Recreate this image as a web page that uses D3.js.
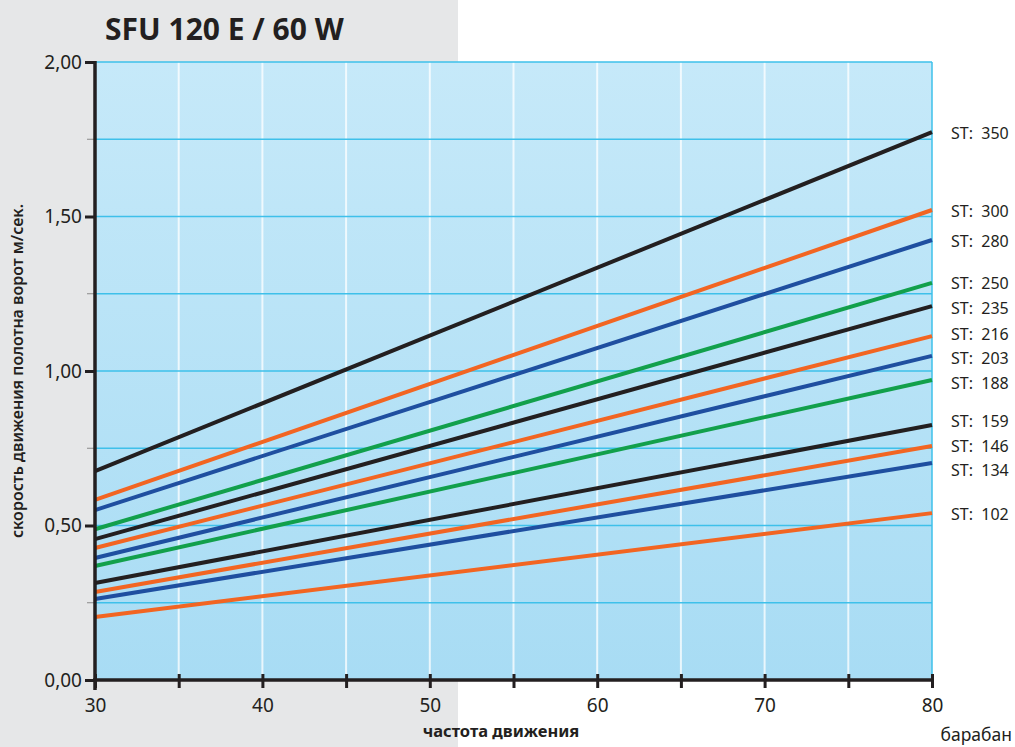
<!DOCTYPE html>
<html>
<head>
<meta charset="utf-8">
<script src="https://cdn.jsdelivr.net/npm/d3@7"></script>
<style>
  body { margin: 0; background: #fff; }
  svg { display: block; }
  text { font-family: "Noto Sans", "DejaVu Sans", sans-serif; fill: #231f20; }
</style>
</head>
<body>
<div id="chart"></div>
<script>
// series: ST drum size, speed at 30 and at 80
var stNames = ["350", "300", "280", "250", "235", "216", "203", "188", "159", "146", "134", "102"];
var speedAt30 = [0.676, 0.583, 0.550, 0.488, 0.456, 0.427, 0.395, 0.369, 0.314, 0.285, 0.262, 0.204];
var speedAt80 = [1.773, 1.521, 1.424, 1.285, 1.210, 1.113, 1.049, 0.971, 0.825, 0.757, 0.702, 0.540];
var lineColors = ["#231f20", "#f26522", "#1f4fa0", "#12a04b", "#231f20", "#f26522", "#1f4fa0", "#12a04b", "#231f20", "#f26522", "#1f4fa0", "#f26522"];
var freqDomain = [30, 80];
var xTicks = [30, 40, 50, 60, 70, 80];
var yTicks = [0, 0.5, 1, 1.5, 2];

var w = 1015, h = 747;
var margin = {left: 95, right: 83, top: 62, bottom: 67};

var svg = d3.select("#chart").append("svg")
    .attr("width", w)
    .attr("height", h);

// grey panel on the left
svg.append("rect")
    .attr("x", 0).attr("y", 0)
    .attr("width", 458).attr("height", h)
    .attr("fill", "#e6e7e8");

var x = d3.scaleLinear().domain(freqDomain).range([margin.left, w - margin.right]);
var y = d3.scaleLinear().domain([0, 2]).range([h - margin.bottom, margin.top]);

var defs = svg.append("defs");
var grad = defs.append("linearGradient")
    .attr("id", "bg").attr("x1", 0).attr("y1", 0).attr("x2", 0).attr("y2", 1);
grad.append("stop").attr("offset", "0%").attr("stop-color", "#c6e9f9");
grad.append("stop").attr("offset", "100%").attr("stop-color", "#a8dcf4");

svg.append("rect")
    .attr("x", x(30)).attr("y", y(2))
    .attr("width", x(80) - x(30)).attr("height", y(0) - y(2))
    .attr("fill", "url(#bg)");

// vertical white grid
svg.append("g").selectAll("line")
    .data(d3.range(35, 80, 5))
    .join("line")
    .attr("x1", function(d) { return x(d); })
    .attr("x2", function(d) { return x(d); })
    .attr("y1", y(2)).attr("y2", y(0))
    .attr("stroke", "#ffffff").attr("stroke-opacity", 0.75).attr("stroke-width", 2);

// horizontal cyan grid
svg.append("g").selectAll("line")
    .data(d3.range(0.25, 2.01, 0.25))
    .join("line")
    .attr("x1", x(30)).attr("x2", x(80))
    .attr("y1", function(d) { return y(d); })
    .attr("y2", function(d) { return y(d); })
    .attr("stroke", "#3ec0ea").attr("stroke-width", 1.5);

// right border
svg.append("line")
    .attr("x1", x(80)).attr("x2", x(80))
    .attr("y1", y(2)).attr("y2", y(0))
    .attr("stroke", "#3ec0ea").attr("stroke-width", 1.5);

// lines
var series = stNames.map(function(n, i) {
    return {name: n, color: lineColors[i], values: [[30, speedAt30[i]], [80, speedAt80[i]]]};
});

var line = d3.line()
    .x(function(d) { return x(d[0]); })
    .y(function(d) { return y(d[1]); });

svg.append("g").selectAll("path")
    .data(series.slice().reverse())
    .join("path")
    .attr("d", function(d) { return line(d.values); })
    .attr("fill", "none")
    .attr("stroke", function(d) { return d.color; })
    .attr("stroke-width", 4);

// labels on the right, spread so they don't collide
var labelY = series.map(function(d) { return y(d.values[1][1]); });
for (var k = 0; k < 20; k++) {
    for (var i = 1; i < labelY.length; i++) {
        var gap = labelY[i] - labelY[i - 1];
        if (gap < 24.5) {
            var push = (24.5 - gap) / 2;
            labelY[i - 1] -= push;
            labelY[i] += push;
        }
    }
}

svg.append("g").selectAll("text")
    .data(series)
    .join("text")
    .attr("x", 951)
    .attr("y", function(d, i) { return labelY[i] + 7; })
    .attr("font-size", 16)
    .style("white-space", "pre")
    .text(function(d) { return "ST:  " + d.name; });

// y axis
var yAxis = svg.append("g")
    .attr("transform", "translate(" + x(30) + ",0)");
yAxis.selectAll(".minor")
    .data([0.25, 0.75, 1.25, 1.75])
    .join("line")
    .attr("x1", -8).attr("x2", 0)
    .attr("y1", function(d) { return y(d); })
    .attr("y2", function(d) { return y(d); })
    .attr("stroke", "#8a8a8a").attr("stroke-width", 1);
yAxis.call(d3.axisLeft(y).tickValues(yTicks).tickSize(10).tickPadding(3)
    .tickFormat(function(d) { return d3.format(".2f")(d).replace(".", ","); }));
yAxis.select(".domain").attr("stroke", "#231f20").attr("stroke-width", 3.5);
yAxis.selectAll(".tick line").attr("stroke", "#231f20").attr("stroke-width", 3);
yAxis.selectAll(".tick text")
    .attr("font-size", 19).attr("font-family", "Lato, 'Noto Sans', sans-serif").attr("fill", "#231f20");
yAxis.select(".domain").attr("d", "M0," + (y(2) - 1) + "V" + (y(0) + 10));

// x axis
var xAxis = svg.append("g")
    .attr("transform", "translate(0," + y(0) + ")");
xAxis.call(d3.axisBottom(x).tickValues(d3.range(30, 81, 5)).tickSize(8).tickPadding(11)
    .tickFormat(function(d) { return xTicks.indexOf(d) >= 0 ? d : ""; }));
xAxis.select(".domain").attr("stroke", "#231f20").attr("stroke-width", 3.5)
    .attr("d", "M" + (x(30) - 2) + ",0H" + x(80));
xAxis.selectAll(".tick line").attr("y1", -6).attr("stroke", "#231f20").attr("stroke-width", 3);
xAxis.selectAll(".tick text")
    .attr("font-size", 19).attr("font-family", "Lato, 'Noto Sans', sans-serif").attr("fill", "#231f20");

// titles
svg.append("text")
    .attr("x", 105).attr("y", 40)
    .attr("font-size", 30).attr("font-weight", "bold")
    .text("SFU 120 E / 60 W");

svg.append("text")
    .attr("transform", "translate(23," + y(1) + ") rotate(-90)")
    .attr("text-anchor", "middle")
    .attr("font-size", 16).attr("font-weight", 600)
    .text("скорость движения полотна ворот м/сек.");

svg.append("text")
    .attr("x", 501).attr("y", 737)
    .attr("text-anchor", "middle")
    .attr("font-size", 16.5).attr("font-weight", "bold")
    .text("частота движения");

svg.append("text")
    .attr("x", 1012).attr("y", 741)
    .attr("text-anchor", "end")
    .attr("font-size", 17.5)
    .text("барабан");
</script>
</body>
</html>
